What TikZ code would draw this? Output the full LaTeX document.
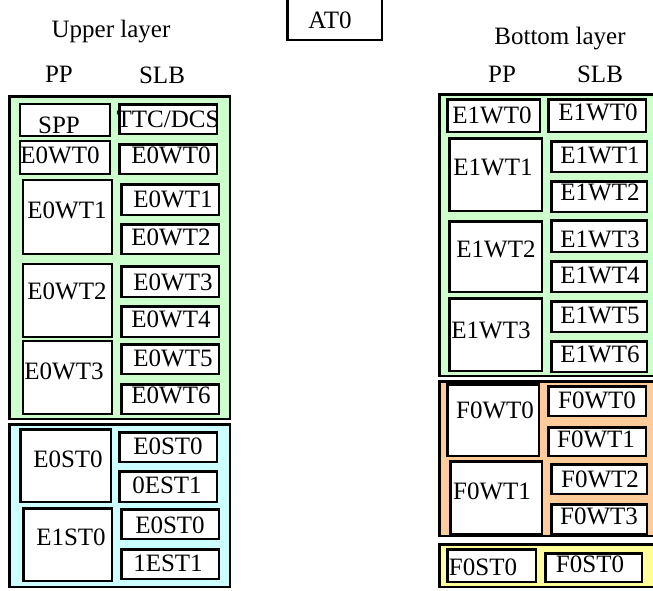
\documentclass[tikz,border=0pt]{standalone}
\usepackage{fontspec}
\setmainfont{Liberation Serif}
\definecolor{lgreen}{RGB}{204,255,204}
\definecolor{lblue}{RGB}{204,255,255}
\definecolor{lorange}{RGB}{255,204,153}
\definecolor{lyellow}{RGB}{255,255,153}
\newcommand\mycell[6]{\node[#6, minimum width={#4-#2-2.5}, minimum height={#5-#3-2.5}] (#1) at ({(#2+#4)/2},{(#3+#5)/2}) {};}
\newcommand\mytext[4]{\node[lbl] (#1) at (#2,#3) {#4};}
\begin{document}
\begin{tikzpicture}[x=1pt,y=-1pt,
  lbl/.style={anchor=base, inner sep=0pt, font=\fontsize{25}{30}\selectfont},
  grp/.style={draw=black, line width=2.5pt, inner sep=0pt, outer sep=0pt},
  cell/.style={draw=black, fill=white, line width=2.5pt, inner sep=0pt, outer sep=0pt},
  ppcell/.style={draw=black, fill=white, line width=2.2pt, inner sep=0pt, outer sep=0pt}]
\useasboundingbox (0,0) rectangle (653,590);
% headers
\mytext{hup}{111}{37}{Upper layer}
\mytext{hpp1}{59}{82}{PP}
\mytext{hslb1}{162}{83}{SLB}
\mytext{hbot}{560}{44}{Bottom layer}
\mytext{hpp2}{502}{82}{PP}
\mytext{hslb2}{600}{82}{SLB}
\mycell{at}{286}{-5}{383}{41}{grp}
\mytext{att}{330}{28}{AT0}
% left groups
\mycell{ug}{8}{95}{231}{420}{grp,fill=lgreen}
\mycell{ub}{8}{423}{231}{588}{grp,fill=lblue}
\mycell{c1}{19}{103}{111}{137}{ppcell}
\mytext{t1}{59}{133}{SPP}
\mycell{c2}{118}{103}{218}{135}{cell}
\mytext{t2}{168}{127}{TTC/DCS}
\mycell{c3}{19}{140}{111}{175}{ppcell}
\mytext{t3}{60}{163}{E0WT0}
\mycell{c4}{118}{143}{218}{175}{cell}
\mytext{t4}{171}{163}{E0WT0}
\mycell{c5}{22}{179}{113}{255}{ppcell}
\mytext{t5}{67}{218}{E0WT1}
\mycell{c6}{120}{183}{220}{216}{cell}
\mytext{t6}{173}{207}{E0WT1}
\mycell{c7}{120}{223}{220}{255}{cell}
\mytext{t7}{171}{245}{E0WT2}
\mycell{c8}{22}{263}{113}{338}{ppcell}
\mytext{t8}{67}{299}{E0WT2}
\mycell{c9}{120}{265}{220}{298}{cell}
\mytext{t9}{173}{290}{E0WT3}
\mycell{c10}{120}{305}{220}{338}{cell}
\mytext{t10}{171}{327}{E0WT4}
\mycell{c11}{22}{340}{113}{415}{ppcell}
\mytext{t11}{64}{379}{E0WT3}
\mycell{c12}{120}{343}{220}{375}{cell}
\mytext{t12}{173}{366}{E0WT5}
\mycell{c13}{120}{383}{220}{415}{cell}
\mytext{t13}{171}{403}{E0WT6}
\mycell{c14}{19}{428}{112}{503}{cell}
\mytext{t14}{68}{467}{E0ST0}
\mycell{c15}{118}{431}{218}{463}{cell}
\mytext{t15}{168}{454}{E0ST0}
\mycell{c16}{118}{470}{218}{503}{cell}
\mytext{t16}{167}{493}{0EST1}
\mycell{c17}{22}{507}{113}{582}{cell}
\mytext{t17}{71}{545}{E1ST0}
\mycell{c18}{120}{508}{220}{540}{cell}
\mytext{t18}{170}{533}{E0ST0}
\mycell{c19}{120}{548}{220}{580}{cell}
\mytext{t19}{168}{571}{1EST1}
% right groups
\mycell{bg}{438}{93}{658}{377}{grp,fill=lgreen}
\mycell{bo}{438}{380}{658}{537}{grp,fill=lorange}
\mycell{by}{438}{543}{658}{588}{grp,fill=lyellow}
\mycell{d1}{446}{98}{541}{133}{cell}
\mytext{s1}{492}{123}{E1WT0}
\mycell{d2}{547}{98}{647}{133}{cell}
\mytext{s2}{598}{120}{E1WT0}
\mycell{d3}{448}{137}{543}{212}{cell}
\mytext{s3}{493}{175}{E1WT1}
\mycell{d4}{550}{140}{648}{173}{cell}
\mytext{s4}{600}{163}{E1WT1}
\mycell{d5}{550}{180}{648}{213}{cell}
\mytext{s5}{600}{200}{E1WT2}
\mycell{d6}{448}{220}{543}{293}{cell}
\mytext{s6}{496}{257}{E1WT2}
\mycell{d7}{550}{219}{648}{253}{cell}
\mytext{s7}{600}{247}{E1WT3}
\mycell{d8}{550}{260}{648}{293}{cell}
\mytext{s8}{600}{283}{E1WT4}
\mycell{d9}{448}{297}{543}{372}{cell}
\mytext{s9}{491}{338}{E1WT3}
\mycell{d10}{550}{300}{648}{333}{cell}
\mytext{s10}{600}{323}{E1WT5}
\mycell{d11}{550}{340}{648}{373}{cell}
\mytext{s11}{600}{362}{E1WT6}
\mycell{d12}{446}{383}{540}{457}{cell}
\mytext{s12}{495}{418}{F0WT0}
\mycell{d13}{547}{385}{647}{417}{cell}
\mytext{s13}{597}{408}{F0WT0}
\mycell{d14}{547}{426}{647}{457}{cell}
\mytext{s14}{596}{447}{F0WT1}
\mycell{d15}{449}{460}{543}{535}{cell}
\mytext{s15}{492}{499}{F0WT1}
\mycell{d16}{550}{463}{648}{495}{cell}
\mytext{s16}{600}{487}{F0WT2}
\mycell{d17}{550}{503}{648}{535}{cell}
\mytext{s17}{599}{524}{F0WT3}
\mycell{d18}{446}{548}{537}{583}{cell}
\mytext{s18}{483}{575}{F0ST0}
\mycell{d19}{544}{552}{643}{583}{cell}
\mytext{s19}{590}{572}{F0ST0}
\end{tikzpicture}
\end{document}
